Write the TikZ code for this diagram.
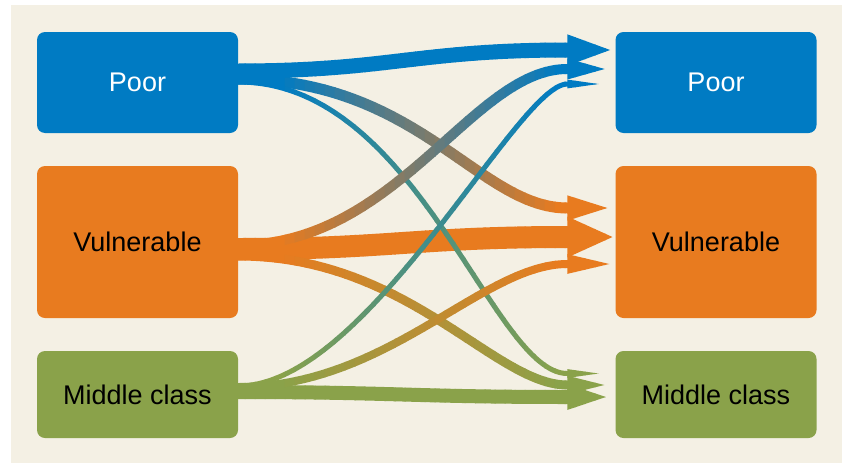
\documentclass[tikz,border=0pt]{standalone}
\usepackage{fontspec}
\setmainfont{Liberation Sans}
\usetikzlibrary{arrows.meta,
	calc}

\definecolor{poorblue}{RGB}{0,123,195}
\definecolor{vulnorange}{RGB}{232,123,31}
\definecolor{midgreen}{RGB}{138,162,74}
\definecolor{paper}{RGB}{244,240,228}

% one flow, drawn strip by strip so the colour runs from #1 to #2
% #3 width, #4 head width, #5 tail, #6 tip, #7/#8 control lengths
\newcommand\flow[8]{%
  \foreach \s in {0,...,38}{
    \pgfmathsetmacro\mix{min(max((240+10*\s-280)/280,0),1)*100}
    \begin{scope}
      \clip (234.5+10*\s,0) rectangle (245.5+10*\s,463);
      \draw[line width=#3,#2!\mix!#1,-{Triangle[length=47pt,width=#4]}]
        (#5) .. controls +(#7,0) and +(-#8,0) .. ([xshift=-47pt]#6) -- (#6);
    \end{scope}}}

\begin{document}
\begin{tikzpicture}[x=1pt,y=-1pt]
    \tikzstyle{box}=[rounded corners=8pt,minimum width=201pt,inner sep=0pt,
      text=black,font=\fontsize{27}{31}\selectfont]
    \useasboundingbox (0,0) rectangle (842,463);
    \fill[paper] (11,5) rectangle (842,463);

    \node[box,fill=poorblue,text=white,minimum height=101pt] (poorL) at (137.5,82.5) {Poor};
    \node[box,fill=vulnorange,minimum height=152pt] (vulnL) at (137.5,242) {Vulnerable};
    \node[box,fill=midgreen,minimum height=87pt] (midL) at (137.5,394.5) {Middle class};
    \node[box,fill=poorblue,text=white,minimum height=101pt] (poorR) at (716,82.5) {Poor};
    \node[box,fill=vulnorange,minimum height=152pt] (vulnR) at (716,242) {Vulnerable};
    \node[box,fill=midgreen,minimum height=87pt] (midR) at (716,394.5) {Middle class};

    % arrow tips, just left of the boxes on the right
    \coordinate (pp) at ($(poorR.west)+(-1,-32.5)$);
    \coordinate (vp) at ($(poorR.west)+(-1,-13.5)$);
    \coordinate (mp) at ($(poorR.west)+(-1,1.5)$);
    \coordinate (pv) at ($(vulnR.west)+(-1,-34)$);
    \coordinate (vv) at ($(vulnR.west)+(-1,-5)$);
    \coordinate (mv) at ($(vulnR.west)+(-1,22)$);
    \coordinate (pm) at ($(midR.west)+(-1,-21)$);
    \coordinate (vm) at ($(midR.west)+(-1,-9.5)$);
    \coordinate (mm) at ($(midR.west)+(-1,2.5)$);

    \flow{vulnorange}{vulnorange}{22}{37pt}{$(vulnL.east)+(0,7)$}{vv}{150}{150}
    \flow{midgreen}{midgreen}{14}{21pt}{$(midL.east)+(0,-2.5)$}{mm}{150}{150}
    \flow{poorblue}{vulnorange}{11}{21pt}{$(poorL.east)+(0,-3.5)$}{pv}{180}{88}
    \flow{vulnorange}{midgreen}{9}{15pt}{$(vulnL.east)+(0,14)$}{vm}{170}{73}
    \flow{poorblue}{midgreen}{5}{7pt}{$(poorL.east)+(0,-0.5)$}{pm}{180}{75}
    \flow{midgreen}{vulnorange}{8}{17pt}{$(midL.east)+(0,-7.5)$}{mv}{150}{85}
    \flow{vulnorange}{poorblue}{10}{17pt}{$(vulnL.east)+(0,3)$}{vp}{160}{95}
    \flow{midgreen}{poorblue}{5}{7pt}{$(midL.east)+(0,-8.5)$}{mp}{130}{50}
    \flow{poorblue}{poorblue}{15}{27pt}{$(poorL.east)+(0,-11.5)$}{pp}{150}{150}
\end{tikzpicture}
\end{document}
